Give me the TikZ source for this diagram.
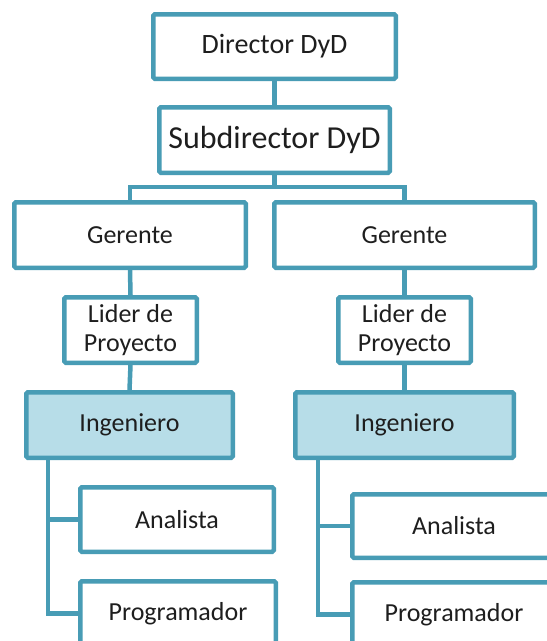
\documentclass[tikz,border=0pt]{standalone}
\usepackage{fontspec}
\setmainfont{Carlito}
\definecolor{edge}{RGB}{72,156,181}
\definecolor{lite}{RGB}{183,221,232}
\definecolor{ink}{RGB}{30,30,30}
\tikzset{
  box/.style={draw=edge, line width=4.5pt, rounded corners=1.5pt, fill=white,
    inner sep=0pt, align=center, text=ink, font=\fontsize{26}{29}\selectfont},
  hl/.style={box, fill=lite},
  conn/.style={draw=edge, line width=4.5pt}
}
\begin{document}
\begin{tikzpicture}[x=1pt,y=-1pt]
\useasboundingbox (0,0) rectangle (547,641);
\clip (0,0) rectangle (547,641);
\fill[white] (0,0) rectangle (547,641);
% nodes
\node[box, minimum width=242.5pt, minimum height=64.5pt, font=\fontsize{28}{31}\selectfont] (dir) at (274.5,46.5) {Director DyD};
\node[box, minimum width=230.5pt, minimum height=65.5pt, font=\fontsize{32}{35}\selectfont] (sub) at (274.5,140) {Subdirector DyD};
\node[box, minimum width=231.5pt, minimum height=65.5pt] (gerL) at (130,235) {Gerente};
\node[box, minimum width=260.5pt, minimum height=65.5pt] (gerR) at (404.5,235) {Gerente};
\node[box, minimum width=132.5pt, minimum height=65.5pt] (lidL) at (130.5,330) {Lider de\\Proyecto};
\node[box, minimum width=132.5pt, minimum height=65.5pt] (lidR) at (404.5,330) {Lider de\\Proyecto};
\node[hl, minimum width=206.5pt, minimum height=65.5pt] (ingL) at (129.5,425) {Ingeniero};
\node[hl, minimum width=218.5pt, minimum height=65.5pt] (ingR) at (404.5,425) {Ingeniero};
\node[box, minimum width=193.5pt, minimum height=64.5pt] (anaL) at (177,519.5) {Analista};
\node[box, minimum width=203.5pt, minimum height=63.5pt] (anaR) at (454,526) {Analista};
\node[box, minimum width=195.5pt, minimum height=64.5pt] (proL) at (178,613.5) {Programador};
\node[box, minimum width=203.5pt, minimum height=64.5pt] (proR) at (454,614.5) {Programador};
% connectors
\draw[conn] (dir.south) -- (sub.north);
\coordinate (bus) at ([yshift=-12pt]sub.south);
\draw[conn] (sub.south) -- (bus) -| (gerL.north);
\draw[conn] (bus) -| (gerR.north);
\draw[conn] (gerL.south) -- (lidL.north);
\draw[conn] (gerR.south) -- (lidR.north);
\draw[conn] (lidL.south) -- (ingL.north);
\draw[conn] (lidR.south) -- (ingR.north);
\coordinate (tL) at ([xshift=24pt]ingL.south west);
\coordinate (tR) at ([xshift=25pt]ingR.south west);
\draw[conn] (tL) |- (anaL.west);
\draw[conn] (tL) |- (proL.west);
\draw[conn] (tR) |- (anaR.west);
\draw[conn] (tR) |- (proR.west);
\end{tikzpicture}
\end{document}
